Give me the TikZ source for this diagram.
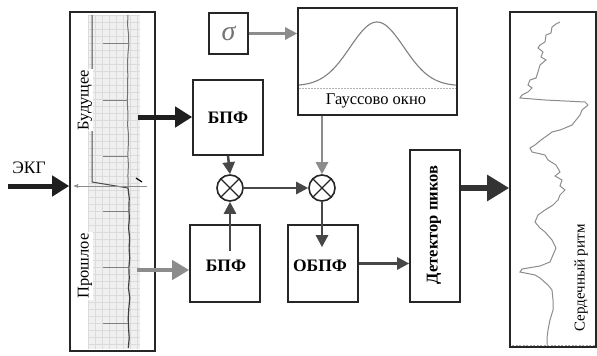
\documentclass[tikz,border=0pt]{standalone}
\usepackage{fontspec}
\setmainfont{Liberation Serif}
\usetikzlibrary{arrows.meta,calc}
\begin{document}
\begin{tikzpicture}[x=1pt,y=-1pt,
  box/.style={draw=black!85,line width=1.6pt,rectangle,inner sep=0pt},
  lbl/.style={font=\fontsize{17.5}{17.5}\selectfont\bfseries},
  dark/.style={draw=black!72,line width=2.5pt,-{Triangle[length=12pt,width=12pt]}},
  grey/.style={draw=black!45,line width=2.5pt,-{Triangle[length=12pt,width=12pt]}},
  thick arr/.style={draw=black!88,line width=5pt,-{Triangle[length=17pt,width=20pt]}},
  thick grey/.style={draw=black!45,line width=4pt,-{Triangle[length=17pt,width=19pt]}},
  mult/.style={circle,draw=black!85,line width=1.6pt,minimum size=26pt,inner sep=0pt,
    path picture={\draw[black!85,line width=1.1pt] (path picture bounding box.north west)--(path picture bounding box.south east) (path picture bounding box.north east)--(path picture bounding box.south west);}}]
\useasboundingbox (0,0) rectangle (597,356);
\fill[white] (0,0) rectangle (597,356);

% ECG strip
\fill[black!6] (88,15) rectangle (140,349);
\foreach \x in {88,95,...,140} \draw[black!14,line width=0.4pt] (\x,15)--(\x,349);
\foreach \y in {15,22,...,349} \draw[black!14,line width=0.4pt] (88,\y)--(140,\y);
\node[box,minimum width=85pt,minimum height=339pt] (ecg) at (112.5,181.5) {};
\draw[black!70,line width=1pt] (92,15)--(92,182)--(128,188);
\draw[black!55,line width=1pt] (128,15) \foreach \y in {25,35,...,185} {-- (128+rand*0.8,\y)} -- (128,188);
\draw[black!75,line width=1.2pt] (128,188) \foreach \y in {198,208,...,348} {-- (129+rand*0.8,\y)};
\foreach \y in {43,100,156,211,267,323} \draw[black!50,line width=1pt] (103,\y)--(128,\y);
\draw[black!45,line width=0.7pt,-{Latex[length=5pt,width=4pt]}] (147,186)--(73,186);
\draw[black,line width=1.2pt] (136,178)--(142,182);
\node[rotate=90,font=\fontsize{16.5}{16.5}\selectfont,fill=white,inner sep=1pt] (fut) at (85,100) {Будущее};
\node[rotate=90,font=\fontsize{16.5}{16.5}\selectfont,fill=white,inner sep=1pt] (past) at (85,266) {Прошлое};

% input
\node[font=\fontsize{17.5}{17.5}\selectfont] (ekg) at (29,168) {ЭКГ};
\coordinate (ekgin) at (8,186);
\draw[thick arr] (ekgin) -- (ekgin -| ecg.west);

% blocks
\node[box,minimum width=70pt,minimum height=75pt,lbl] (fft1) at (228,117.5) {БПФ};
\node[box,minimum width=70pt,minimum height=77pt] (fft2) at (225,263.5) {};
\node[lbl] (fft2t) at (226,266) {БПФ};
\node[box,minimum width=70pt,minimum height=77pt] (ifft) at (323,263.5) {};
\node[lbl] (iffft) at (320,266) {ОБПФ};
\node[mult] (mul1) at (230,188) {};
\node[mult] (mul2) at (322,188) {};
\node[box,minimum width=39pt,minimum height=41pt,text=black!55,font=\fontsize{28}{28}\selectfont\itshape] (sig) at (228.5,33.5) {σ};
\node[box,minimum width=159pt,minimum height=107pt] (gauss) at (377.5,61.5) {};
\node[font=\fontsize{16.5}{16.5}\selectfont] (gausst) at (376,101) {Гауссово окно};
\draw[black!30,line width=0.6pt,dash pattern=on 2pt off 1pt] (299,88)--(456,88);
\draw[black!50,line width=1.1pt,domain=299:456,samples=80,smooth] plot (\x,{86-64*exp(-((\x-377)/38)^2)});
\node[box,minimum width=50pt,minimum height=152pt] (det) at (435,226) {};
\node[rotate=90,font=\fontsize{16.5}{16.5}\selectfont\bfseries] (dett) at (434,225) {Детектор пиков};
\node[box,minimum width=86pt,minimum height=335pt] (hr) at (553,179.5) {};
\draw[black!35,line width=0.6pt,dash pattern=on 2pt off 1.5pt] (512,345)--(595,345);
\draw[black!45,line width=1pt] (560,22)--(556,24)--(552,27)--(551,33)--(546,35)--(545,42)--(540,45)--(538,48)--(543,52)--(541,57)--(546,60)--(540,65)--(538,72)--(536,78)--(530,80)--(528,85)--(532,88)--(528,92)--(522,95)--(520,98)--(545,100)--(585,102)--(588,105)--(582,110)--(580,115)--(576,120)--(572,125)--(565,128)--(560,130)--(552,132)--(548,135)--(541,140)--(535,145)--(530,148)--(532,152)--(545,155)--(548,160)--(556,165)--(560,172)--(555,176)--(562,180)--(560,186)--(565,190)--(560,195)--(558,200)--(553,205)--(545,210)--(538,215)--(535,222)--(540,228)--(545,232)--(552,240)--(556,248)--(553,255)--(550,262)--(540,266)--(522,269)--(520,272)--(535,275)--(540,278)--(548,285)--(552,290)--(553,300)--(553,310)--(550,320)--(548,330)--(547,338)--(547,345);
\node[rotate=90,font=\fontsize{15}{15}\selectfont,fill=white,inner sep=1pt] (hrt) at (581,278) {Сердечный ритм};

% connectors
\coordinate (futout) at (138,117);
\draw[thick arr] (futout) -- (futout -| fft1.west);
\coordinate (pastout) at (137,270);
\draw[thick grey] (pastout) -- (pastout -| fft2.west);
\draw[dark] (fft1.south) -- (mul1.north);
\draw[dark] ([yshift=-27pt]fft2.north -| mul1) -- (mul1.south);
\draw[dark] (mul1.east) -- (mul2.west);
\draw[grey] (sig.east) -- (sig.east -| gauss.west);
\draw[grey] (mul2.north |- gauss.south) -- (mul2.north);
\draw[dark] (mul2.south) -- ([yshift=-23pt]ifft.north -| mul2);
\draw[dark] (ifft.east) -- (ifft.east -| det.west);
\draw[draw=black!80,line width=6pt,-{Triangle[length=22pt,width=25pt]}] (det.east |- mul1) -- (hr.west |- mul1);
\end{tikzpicture}
\end{document}
